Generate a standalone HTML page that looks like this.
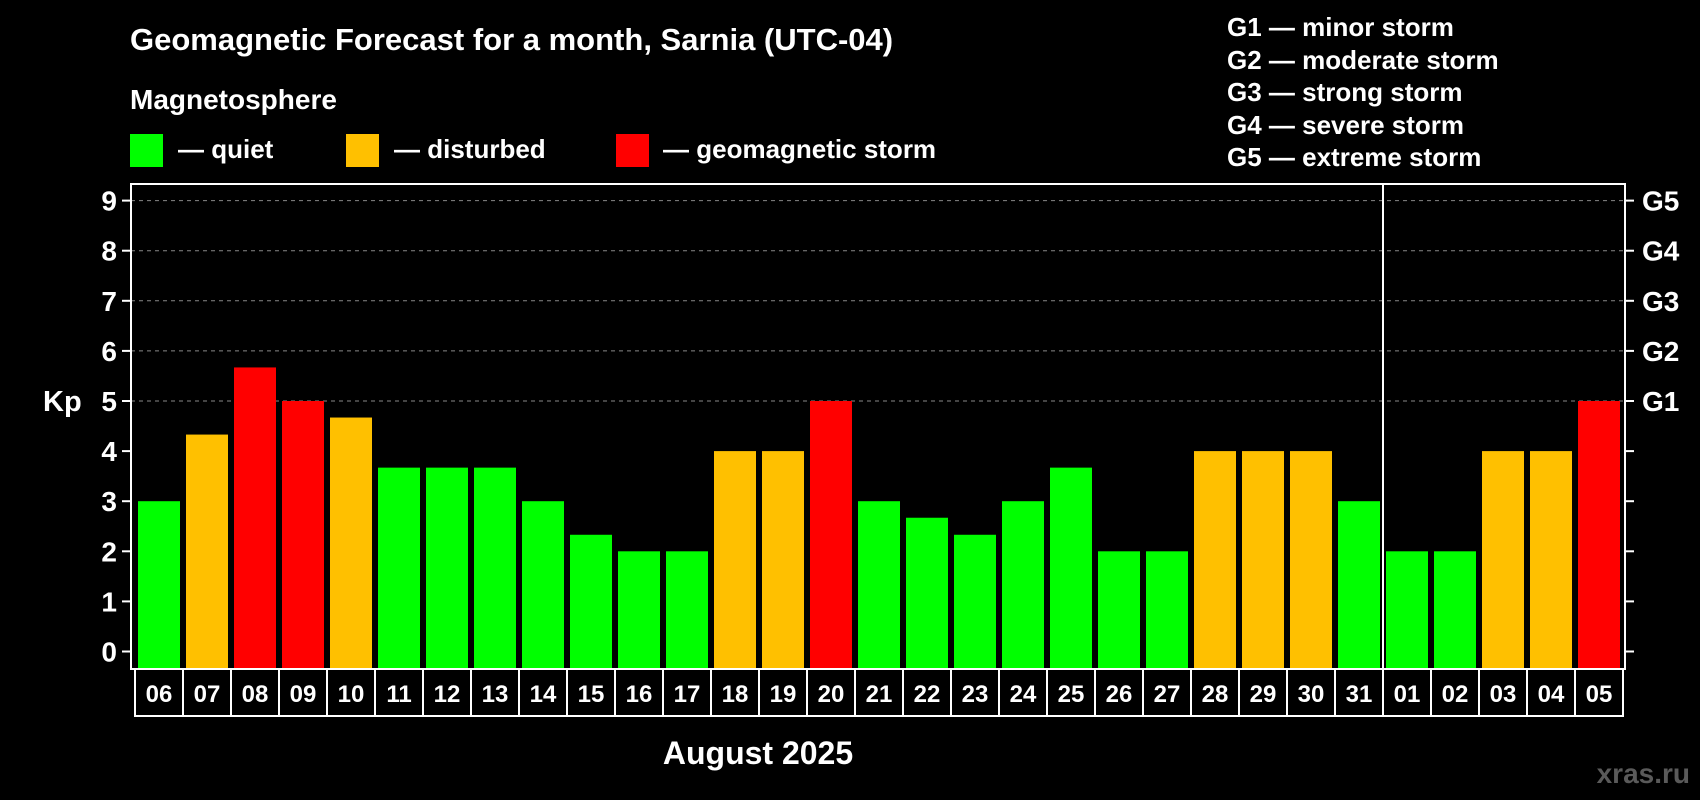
<!DOCTYPE html>
<html><head><meta charset="utf-8"><style>
body{margin:0;background:#000;width:1700px;height:800px;overflow:hidden}
svg{display:block;font-family:"Liberation Sans",Arial,sans-serif;font-weight:bold}
</style></head><body>
<svg id="c" width="1700" height="800" xmlns="http://www.w3.org/2000/svg">
<text x="130" y="50" fill="#fff" font-size="31">Geomagnetic Forecast for a month, Sarnia (UTC-04)</text>
<text x="130" y="109" fill="#fff" font-size="28">Magnetosphere</text>
<rect x="130" y="134" width="33" height="33" fill="#00ff00"/>
<text x="178" y="158" fill="#fff" font-size="26">— quiet</text>
<rect x="346" y="134" width="33" height="33" fill="#ffc000"/>
<text x="394" y="158" fill="#fff" font-size="26">— disturbed</text>
<rect x="616" y="134" width="33" height="33" fill="#ff0000"/>
<text x="663" y="158" fill="#fff" font-size="26">— geomagnetic storm</text>
<g fill="#fff" font-size="26">
<text x="1227" y="36">G1 — minor storm</text>
<text x="1227" y="69">G2 — moderate storm</text>
<text x="1227" y="101">G3 — strong storm</text>
<text x="1227" y="134">G4 — severe storm</text>
<text x="1227" y="166">G5 — extreme storm</text>
</g>
<text x="43" y="411" fill="#fff" font-size="29">Kp</text>
<text x="758" y="764" fill="#fff" font-size="32" text-anchor="middle">August 2025</text>
<text x="1690" y="783" fill="#5a5a5a" font-size="28" text-anchor="end">xras.ru</text>
<g id="grid"></g><g id="bars"></g><g id="axes"></g>
</svg>
<script>
const days=["06","07","08","09","10","11","12","13","14","15","16","17","18","19","20","21","22","23","24","25","26","27","28","29","30","31","01","02","03","04","05"];
const kp=[3,4.33,5.67,5,4.67,3.67,3.67,3.67,3,2.33,2,2,4,4,5,3,2.67,2.33,3,3.67,2,2,4,4,4,3,2,2,4,4,5];
const yTicks=[0,1,2,3,4,5,6,7,8,9];
const gLabels=["G1","G2","G3","G4","G5"];
const NS="http://www.w3.org/2000/svg";
const x0=138,step=48,bw=42,L=131,R=1625,T=184,B=669,LH=47;
const y=v=>651.5-v*50.1;
const bx=i=>x0+i*step;
function mk(t,a,p){const e=document.createElementNS(NS,t);for(const k in a)e.setAttribute(k,a[k]);p.appendChild(e);return e;}
const grid=document.getElementById('grid'),bars=document.getElementById('bars'),axes=document.getElementById('axes');
yTicks.forEach(v=>{
 if(v>=5){const l=mk('line',{x1:L,x2:R,y1:y(v),y2:y(v),stroke:'#888','stroke-dasharray':'4,4','stroke-width':1},grid);
 
 }
 const tl=mk('line',{x1:L-9,x2:L,y1:y(v),y2:y(v),stroke:'#fff','stroke-width':2},axes);
 
 
 const tr=mk('line',{x1:R,x2:R+9,y1:y(v),y2:y(v),stroke:'#fff','stroke-width':2},axes);
 
 
 const t=mk('text',{x:117,y:y(v)+10,fill:'#fff','font-size':28,'text-anchor':'end'},axes);t.textContent=v;
 
 
});
gLabels.forEach((g,i)=>{const t=mk('text',{x:1642,y:y(5+i)+10,fill:'#fff','font-size':28},axes);t.textContent=g;
 
 });
kp.forEach((v,i)=>{
 const c=v>=5?'#ff0000':v>=4?'#ffc000':'#00ff00';
 const r=mk('rect',{x:bx(i),y:y(v),width:bw,height:B-y(v),fill:c},bars);
 
 
 const cell=mk('rect',{x:bx(i)-3,y:B,width:step,height:LH,fill:'none',stroke:'#fff','stroke-width':2},axes);
 
 
 const t=mk('text',{x:bx(i)+bw/2,y:B+33,fill:'#fff','font-size':24,'text-anchor':'middle'},axes);t.textContent=days[i];
 
 
});
const fr=mk('rect',{x:L,y:T,width:R-L,height:B-T,fill:'none',stroke:'#fff','stroke-width':2},axes);


const si=days.indexOf("01");
const sep=mk('line',{x1:bx(si)-3,x2:bx(si)-3,y1:T,y2:B+LH,stroke:'#fff','stroke-width':2},axes);


</script>
</body></html>
